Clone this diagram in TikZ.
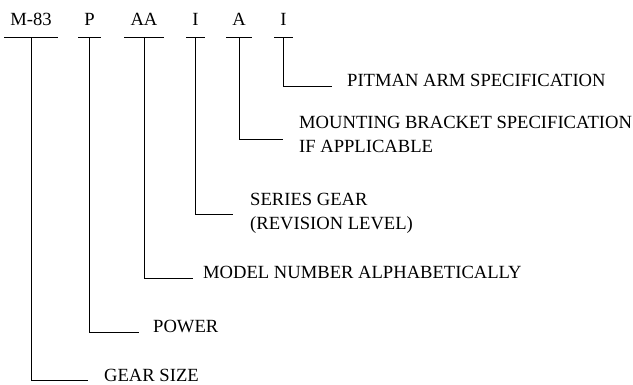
\documentclass[tikz,border=0pt]{standalone}
\usepackage{fontspec}
\setmainfont{Liberation Serif}
\begin{document}
\begin{tikzpicture}[x=1pt,y=-1pt,
  code/.style={anchor=base,inner xsep=6pt,inner ysep=0pt,text depth=11.5pt,font=\fontsize{18.6}{22}\selectfont},
  lab/.style={anchor=base west,inner sep=0pt,align=left,font=\fontsize{18.6}{24.5}\selectfont},
  conn/.style={draw=black,line width=0.7pt}]
\useasboundingbox (0,0) rectangle (633,384);
% code letters
\node[code] (c1) at (31,25.5) {M-83};
\node[code] (c2) at (89.5,25.5) {P};
\node[code] (c3) at (144,25.5) {AA};
\node[code] (c4) at (195.5,25.5) {I};
\node[code] (c5) at (239,25.5) {A};
\node[code] (c6) at (283.5,25.5) {I};
% underlines
\foreach \n in {c1,c2,c3,c4,c5,c6}
  \draw[conn] (\n.south west) -- (\n.south east);
% labels (base = baseline of the last line)
\node[lab] (l6) at (347,86) {PITMAN ARM SPECIFICATION};
\node[lab] (l5) at (299,152.5) {MOUNTING BRACKET SPECIFICATION\\IF APPLICABLE};
\node[lab] (l4) at (250,229.5) {SERIES GEAR\\(REVISION LEVEL)};
\node[lab] (l3) at (203,278.5) {MODEL NUMBER ALPHABETICALLY};
\node[lab] (l2) at (153,332) {POWER};
\node[lab] (l1) at (104,381) {GEAR SIZE};
% connector ends
\coordinate (e6) at (332,86);
\coordinate (e5) at (283,139);
\coordinate (e4) at (233,214);
\coordinate (e3) at (193,278.5);
\coordinate (e2) at (139,332);
\coordinate (e1) at (88,380.5);
% connectors
\draw[conn] (c6.south) |- (e6);
\draw[conn] (c5.south) |- (e5);
\draw[conn] (c4.south) |- (e4);
\draw[conn] (c3.south) |- (e3);
\draw[conn] (c2.south) |- (e2);
\draw[conn] (c1.south) |- (e1);
\end{tikzpicture}
\end{document}
